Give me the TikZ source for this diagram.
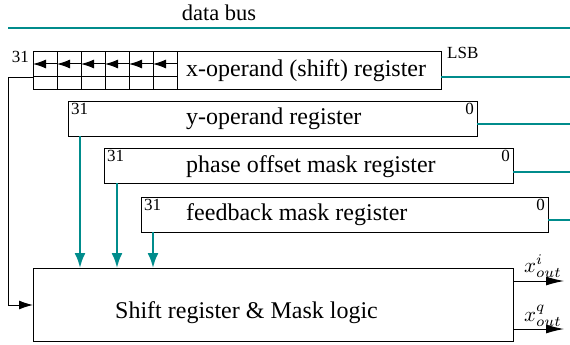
\documentclass[tikz,border=0pt]{standalone}
\usepackage{fontspec}
\setmainfont{Liberation Serif}
\newfontfamily\regfont{Liberation Serif}
\usetikzlibrary{arrows.meta}
\definecolor{busteal}{RGB}{0,140,140}
\tikzset{
  regbox/.style={draw, line width=1pt, inner sep=0pt, outer sep=0pt, anchor=north west},
  bigtxt/.style={inner sep=0pt, anchor=base west, font=\regfont\fontsize{24}{28}\selectfont},
  smalltxt/.style={inner sep=0pt, font=\regfont\fontsize{17}{20}\selectfont},
  bus/.style={busteal, line width=2.2pt},
  busarrow/.style={busteal, line width=2.2pt, -{Latex[length=15pt,width=11pt]}},
  conn/.style={black, line width=1pt},
  connarrow/.style={black, line width=1pt, -{Latex[length=14pt,width=9pt]}},
  outarrow/.style={black, line width=1pt, -{Latex[length=18pt,width=9pt]}},
  cellarrow/.style={black, line width=1pt, -{Latex[length=13pt,width=9pt]}},
  mathlbl/.style={inner sep=0pt}
}
\begin{document}
\begin{tikzpicture}[x=1pt, y=-1pt]
\useasboundingbox (0,0) rectangle (570,345);
% data bus
\node[bigtxt, anchor=base, font=\regfont\fontsize{22.5}{26}\selectfont] (dbtxt) at (219,21) {data bus};
\coordinate (dbl) at (8,28);
\coordinate (dbr) at (570,28);
\draw[bus] (dbl) -- (dbr);
% x-operand register with shift cells
\foreach \i/\xx in {1/33,2/57,3/81,4/105,5/129,6/153} {
  \node[regbox, minimum width=24pt, minimum height=37pt] (c\i) at (\xx,52) {};
}
\node[regbox, minimum width=264pt, minimum height=37pt] (xop) at (177,52) {};
\draw[conn] (c1.west |- 0,76) -- (c6.east |- 0,76);
\foreach \i in {1,...,6} {
  \draw[cellarrow] (c\i.east |- 0,64) -- (c\i.west |- 0,64);
}
\node[bigtxt] (xtxt) at (186,77) {x-operand (shift) register};
\node[smalltxt, anchor=east] (x31) at (29,57) {31};
\node[smalltxt, anchor=west] (lsb) at (447,53) {LSB};
% y-operand
\node[regbox, minimum width=409pt, minimum height=35pt] (yop) at (68,101) {};
\node[bigtxt] (ytxt) at (186,124) {y-operand register};
\node[smalltxt, anchor=north west] (y31) at (71,103) {31};
\node[smalltxt, anchor=north east] (y0) at (474,103) {0};
% phase offset mask
\node[regbox, minimum width=409pt, minimum height=35pt] (pom) at (104,148) {};
\node[bigtxt] (ptxt) at (186,172) {phase offset mask register};
\node[smalltxt, anchor=north west] (p31) at (107,150) {31};
\node[smalltxt, anchor=north east] (p0) at (510,150) {0};
% feedback mask
\node[regbox, minimum width=407pt, minimum height=35pt] (fbm) at (141,197) {};
\node[bigtxt] (ftxt) at (186,220) {feedback mask register};
\node[smalltxt, anchor=north west] (f31) at (144,199) {31};
\node[smalltxt, anchor=north east] (f0) at (545,199) {0};
% shift register & mask logic
\node[regbox, minimum width=480pt, minimum height=73pt] (slog) at (33,268) {};
\node[bigtxt] (stxt) at (115,318) {Shift register \& Mask logic};
% bus taps
\coordinate (rx) at (570,77);
\coordinate (ry) at (570,124);
\coordinate (rp) at (570,172);
\coordinate (rf) at (570,220);
\draw[bus] (xop.east |- rx) -- (rx);
\draw[bus] (yop.east |- ry) -- (ry);
\draw[bus] (pom.east |- rp) -- (rp);
\draw[bus] (fbm.east |- rf) -- (rf);
% down arrows
\draw[busarrow] (yop.south -| 80,0) -- (slog.north -| 80,0);
\draw[busarrow] (pom.south -| 117,0) -- (slog.north -| 117,0);
\draw[busarrow] (fbm.south -| 153,0) -- (slog.north -| 153,0);
% feedback
\coordinate (fbtop) at (8,77);
\draw[connarrow] (c1.west |- fbtop) -- (fbtop) |- (slog.west |- 0,305);
% outputs
\coordinate (oi) at (564,281);
\coordinate (oq) at (564,329);
\draw[outarrow] (slog.east |- oi) -- (oi);
\draw[outarrow] (slog.east |- oq) -- (oq);
\node[mathlbl] (li) at (543,266) {\scalebox{2.1}{$x^i_{out}$}};
\node[mathlbl] (lq) at (543,316) {\scalebox{2.1}{$x^q_{out}$}};
\end{tikzpicture}
\end{document}
